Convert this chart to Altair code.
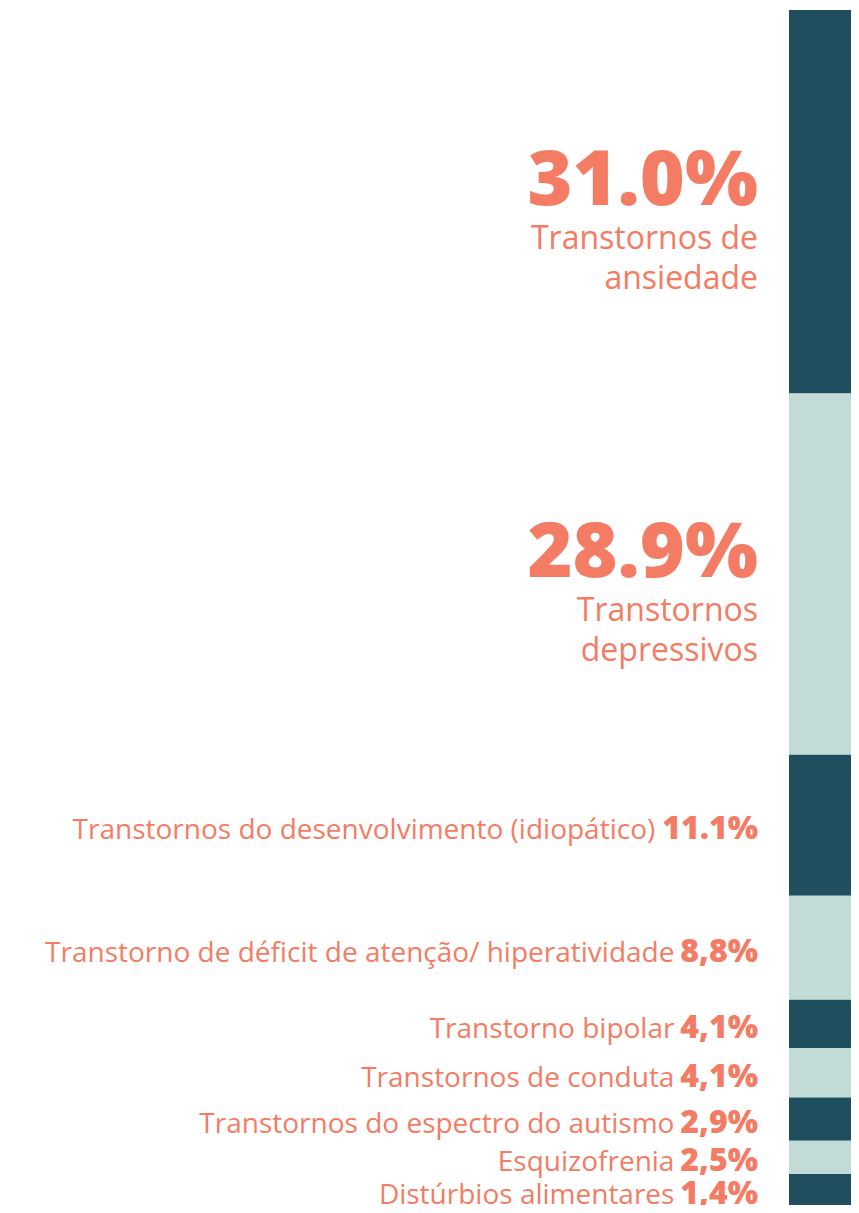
import altair as alt
import pandas as pd

categories = [
    "Transtornos de ansiedade",
    "Transtornos depressivos",
    "Transtornos do desenvolvimento (idiopático)",
    "Transtorno de déficit de atenção/ hiperatividade",
    "Transtorno bipolar",
    "Transtornos de conduta",
    "Transtornos do espectro do autismo",
    "Esquizofrenia",
    "Distúrbios alimentares",
]
share_labels = ["31.0%", "28.9%", "11.1%", "8,8%", "4,1%", "4,1%", "2,9%", "2,5%", "1,4%"]
# segment heights as drawn in the bar
segment_sizes = [31.0, 29.2, 11.4, 8.4, 3.9, 4.0, 3.5, 2.7, 2.5]
big_name_lines = ["Transtornos de\nansiedade", "Transtornos\ndepressivos"]
shades = ["dark", "light", "dark", "light", "dark", "light", "dark", "light", "dark"]

kinds = ["big"] * len(big_name_lines) + ["small"] * (len(categories) - len(big_name_lines))
names = big_name_lines + categories[len(big_name_lines):]

df = pd.DataFrame({
    "order": list(range(len(categories))),
    "category": categories,
    "name": names,
    "share": share_labels,
    "size": segment_sizes,
    "shade": shades,
    "kind": kinds,
})

total = sum(segment_sizes)
SAL = "#f47c64"
FONT = "Open Sans"
NUM_SIZE = 32
RIGHT = 750

base = alt.Chart(df).transform_window(
    cum="sum(size)", sort=[alt.SortField("order")], frame=[None, 0]
).transform_calculate(
    y0="datum.cum - datum.size",
    mid="datum.cum - datum.size / 2",
    nx=f"{RIGHT} - {NUM_SIZE} * (0.6 * (length(datum.share) - 2) + 0.28 + 0.85) - 9",
)

yscale = alt.Scale(domain=[0, total], reverse=True, nice=False, zero=False)

bars = base.mark_rect().encode(
    x=alt.value(781),
    x2=alt.value(843),
    y=alt.Y("y0:Q", scale=yscale, axis=None),
    y2="cum:Q",
    color=alt.Color("shade:N", scale=alt.Scale(domain=["dark", "light"], range=["#1f4e5f", "#c3dbd6"]), legend=None),
)

big_num = base.transform_filter("datum.kind == 'big'").mark_text(
    align="right", baseline="alphabetic", font=FONT, fontSize=77, fontWeight=800, color=SAL, dy=3
).encode(x=alt.value(RIGHT), y=alt.Y("mid:Q", scale=yscale, axis=None), text="share:N")

big_name = base.transform_filter("datum.kind == 'big'").mark_text(
    align="right", baseline="alphabetic", font=FONT, fontSize=32, color=SAL, dy=47,
    lineBreak="\n", lineHeight=40
).encode(x=alt.value(RIGHT), y=alt.Y("mid:Q", scale=yscale, axis=None), text="name:N")

small_name = base.transform_filter("datum.kind == 'small'").mark_text(
    align="right", baseline="alphabetic", font=FONT, fontSize=28, color=SAL, dy=14
).encode(x=alt.X("nx:Q", scale=None), y=alt.Y("mid:Q", scale=yscale, axis=None), text="name:N")

small_num = base.transform_filter("datum.kind == 'small'").mark_text(
    align="right", baseline="alphabetic", font=FONT, fontSize=NUM_SIZE, fontWeight=800, color=SAL, dy=14
).encode(x=alt.value(RIGHT), y=alt.Y("mid:Q", scale=yscale, axis=None), text="share:N")

chart = alt.layer(bars, big_num, big_name, small_name, small_num).properties(
    width=843, height=1195,
    padding={"left": 0, "top": 2, "right": 0, "bottom": 0},
    autosize=alt.AutoSizeParams(type="none"),
).configure(background="white").configure_view(strokeWidth=0, stroke="transparent")

chart.save("out.html", embed_options={"renderer": "svg", "actions": False})
